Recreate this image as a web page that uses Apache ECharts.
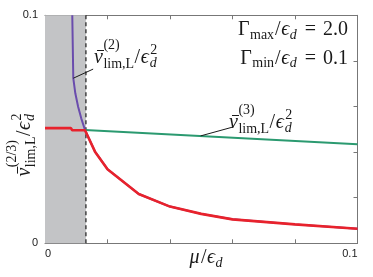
<!DOCTYPE html>
<html><head><meta charset="utf-8">
<script src="https://cdn.jsdelivr.net/npm/echarts@6/dist/echarts.min.js"></script>
<style>html,body{margin:0;padding:0;background:#fff}#c{width:373px;height:277px}</style>
</head><body><div id="c"></div>
<script>
// ---- data ----
const xTickLabels = ['0', '', '', '', '', '0.1'];
const yTickLabels = ['0', '', '', '', '', '0.1'];
const muShadeEnd = 0.0131;
const muRed = [0, 0.0083, 0.0087, 0.0128, 0.016, 0.02, 0.03, 0.04, 0.05, 0.06, 0.08, 0.1];
const vRed  = [0.0505, 0.0505, 0.0496, 0.0496, 0.0402, 0.0325, 0.0216, 0.0161, 0.0129, 0.0105, 0.0083, 0.0064];
const muV2 = [0.00873, 0.00905, 0.0097, 0.0106, 0.0116, 0.0128];
const vV2  = [0.1, 0.0724, 0.0658, 0.0599, 0.0548, 0.0497];
const muV3 = [0.0128, 0.1];
const vV3  = [0.0497, 0.0434];
const muLead2 = [0.00905, 0.0154];
const vLead2  = [0.0724, 0.0764];
const muLead3 = [0.0498, 0.0604];
const vLead3  = [0.0471, 0.0511];

const pairs = (xs, ys) => xs.map((x, i) => [x, ys[i]]);
const v2Full = pairs(muV2, vV2).concat(pairs(muRed.slice(4), vRed.slice(4)));

const SERIF = '"Liberation Serif", "DejaVu Serif", serif';
const cv = document.createElement('canvas').getContext('2d');
function fnt(s, it) { return (it ? 'italic ' : '') + s + 'px ' + SERIF; }
function tw(t, s, it) { cv.font = fnt(s, it); cv.textBaseline = 'alphabetic'; return cv.measureText(t).width; }
function midOff(s, it) { cv.font = fnt(s, it); cv.textBaseline = 'middle'; const m = cv.measureText('H').actualBoundingBoxDescent; cv.textBaseline = 'alphabetic'; return m; }
function txt(t, s, it, x, base) {
  return { type: 'text', x: x, y: base - midOff(s, it), silent: true,
    style: { text: t, fontSize: s, fontFamily: SERIF, fontStyle: it ? 'italic' : 'normal', fill: '#1a1a1a', align: 'left', verticalAlign: 'middle' } };
}
function build(items) {
  let x = 0; const els = [];
  items.forEach(p => {
    if (p.sup || p.sub) {
      let w = 0;
      [p.sup, p.sub].forEach(q => { if (q) { const dx = q.dx || 0; els.push(txt(q.t, q.s, q.it, x + dx, q.dy)); w = Math.max(w, dx + tw(q.t, q.s, q.it)); } });
      x += w + (p.after || 0);
    } else {
      x += p.dx || 0;
      els.push(txt(p.t, p.s, p.it, x, p.dy || 0));
      if (p.bar) { els.push({ type: 'line', silent: true, shape: { x1: x + p.bar[0], y1: p.bar[2], x2: x + p.bar[1], y2: p.bar[2] }, style: { stroke: '#1a1a1a', lineWidth: 1 } }); }
      x += tw(p.t, p.s, p.it) + (p.after || 0);
    }
  });
  return { els, width: x };
}
function place(items, x, y, align, rotation) {
  const b = build(items);
  const off = align === 'right' ? -b.width : align === 'center' ? -b.width / 2 : 0;
  b.els.forEach(e => { if (e.type === 'text') e.x += off; else { e.shape.x1 += off; e.shape.x2 += off; } });
  return { type: 'group', x: x, y: y, rotation: rotation || 0, children: b.els };
}
function vlabel(sup, S, s) {
  return [
    { t: 'v', s: S, it: true, bar: [3, 10, -12.5] },
    { sup: { t: sup, s: s, it: false, dy: -14, dx: 0.5 }, sub: { t: 'lim,L', s: s, it: false, dy: 4.5, dx: 0.5 } },
    { t: '/', s: S, it: false, dx: 0.5 },
    { t: 'ϵ', s: S, it: true, dx: 0.5 },
    { sup: { t: '2', s: s, it: false, dy: -9, dx: 1.5 }, sub: { t: 'd', s: s, it: true, dy: 4, dx: 1 } }
  ];
}
function gamma(sub, val) {
  return [
    { t: 'Γ', s: 20, it: false, after: 0.5 }, { sub: { t: sub, s: 14, it: false, dy: 3.5 }, after: 0.5 },
    { t: '/', s: 20, it: false, dx: 0.5 }, { t: 'ϵ', s: 20, it: true, dx: 0.5 }, { sub: { t: 'd', s: 14, it: true, dy: 3.5, dx: 0.5 } },
    { t: '=', s: 20, it: false, dx: 8, after: 7 },
    { t: val, s: 20, it: false }
  ];
}
const xName = [
  { t: 'μ', s: 20, it: true }, { t: '/', s: 20, it: false, dx: 1.5 }, { t: 'ϵ', s: 20, it: true, dx: 0.5 },
  { sub: { t: 'd', s: 14, it: true, dy: 4, dx: 0.5 } }
];

const axisCol = '#777';
const fmt = labels => v => { const i = Math.round(v / 0.02); return Math.abs(v - i * 0.02) < 1e-9 ? (labels[i] || '') : ''; };
const baseAxis = {
  type: 'value', min: 0, max: 0.1, interval: 0.02,
  axisLine: { show: true, onZero: false, lineStyle: { color: axisCol, width: 1 } },
  axisTick: { show: true, inside: true, length: 4, lineStyle: { color: axisCol } },
  splitLine: { show: false }
};
const tickFont = { fontFamily: '"Liberation Sans", Arial, sans-serif', fontSize: 11, color: '#222' };

const chart = echarts.init(document.getElementById('c'), null, { renderer: 'canvas' });
chart.setOption({
  animation: false,
  backgroundColor: '#fff',
  grid: { left: 45, right: 15.5, top: 15.3, bottom: 33.7 },
  xAxis: [
    Object.assign({}, baseAxis, { position: 'bottom', axisLabel: Object.assign({ margin: 5, formatter: fmt(xTickLabels), alignMinLabel: 'left', alignMaxLabel: 'right', showMinLabel: true, showMaxLabel: true }, tickFont) }),
    Object.assign({}, baseAxis, { position: 'top', axisLabel: { show: false } })
  ],
  yAxis: [
    Object.assign({}, baseAxis, { position: 'left', axisLabel: Object.assign({ margin: 7, formatter: fmt(yTickLabels), showMinLabel: true, showMaxLabel: true }, tickFont) }),
    Object.assign({}, baseAxis, { position: 'right', axisLabel: { show: false } })
  ],
  series: [
    { type: 'line', data: [], silent: true,
      markArea: { silent: true, itemStyle: { color: '#c3c4c6' }, data: [[{ xAxis: 0 }, { xAxis: muShadeEnd }]] } },
    { type: 'line', data: [[muShadeEnd, 0], [muShadeEnd, 0.1]], showSymbol: false, silent: true,
      lineStyle: { color: '#1a1a1a', type: [4, 3], width: 1.2 }, z: 2 },
    { type: 'line', data: v2Full, showSymbol: false, lineStyle: { color: '#6a4cad', width: 2 }, z: 3, clip: true },
    { type: 'line', data: pairs(muV3, vV3), showSymbol: false, lineStyle: { color: '#2b9a70', width: 2 }, z: 3 },
    { type: 'line', data: pairs(muRed, vRed), showSymbol: false, lineStyle: { color: '#e8222c', width: 2.6 }, z: 4 },
    { type: 'line', data: pairs(muLead2, vLead2), showSymbol: false, lineStyle: { color: '#1a1a1a', width: 1 }, z: 5 },
    { type: 'line', data: pairs(muLead3, vLead3), showSymbol: false, lineStyle: { color: '#1a1a1a', width: 1 }, z: 5 }
  ],
  graphic: [
    place(vlabel('(2)', 20, 14), 94, 63, 'left'),
    place(vlabel('(3)', 20, 14), 229, 128, 'left'),
    place(gamma('max', '2.0'), 348, 35, 'right'),
    place(gamma('min', '0.1'), 348, 63.5, 'right'),
    place(xName, 206, 263, 'center'),
    place(vlabel('(2/3)', 20, 14), 30, 145, 'center', Math.PI / 2)
  ]
});
</script></body></html>
